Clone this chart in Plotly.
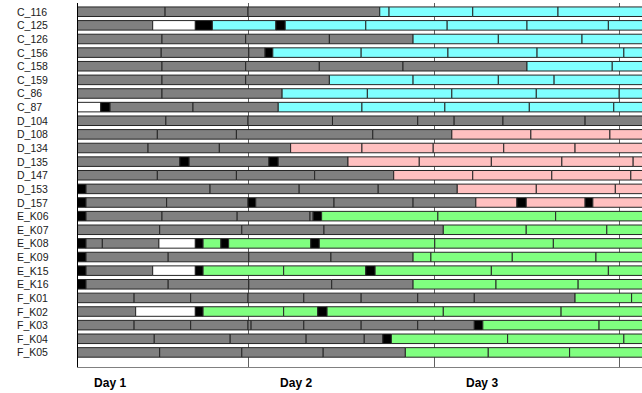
import plotly.graph_objects as go

# Row names (top to bottom)
rows = ["C_116", "C_125", "C_126", "C_156", "C_158", "C_159", "C_86", "C_87",
        "D_104", "D_108", "D_134", "D_135", "D_147", "D_153", "D_157",
        "E_K06", "E_K07", "E_K08", "E_K09", "E_K15", "E_K16",
        "F_K01", "F_K02", "F_K03", "F_K04", "F_K05"]

# Time in hours from the start of Day 1; each row: segment end times and state codes
# g = grey, w = white, k = black, c = cyan, p = pink, n = green
START = 2.0
seg_ends = [
    [13.3, 24.0, 41.0, 42.2, 53.0, 64.0, 76],
    [11.7, 17.2, 19.4, 27.6, 28.8, 39.2, 49.7, 60.0, 70.5, 76],
    [12.9, 23.7, 34.5, 45.3, 56.3, 67.1, 76],
    [12.8, 24.1, 26.2, 27.2, 38.6, 49.8, 61.3, 72.5, 76],
    [12.9, 23.7, 33.2, 44.0, 60.0, 71.0, 76],
    [12.9, 23.7, 34.5, 45.3, 56.3, 63.5, 76],
    [12.9, 28.4, 39.4, 50.3, 61.2, 71.9, 76],
    [5.0, 6.2, 16.9, 27.9, 38.7, 49.4, 60.3, 71.2, 76],
    [13.4, 24.0, 34.9, 45.9, 50.6, 56.9, 67.5, 76],
    [12.3, 22.5, 40.1, 50.3, 60.5, 70.7, 76],
    [11.1, 20.3, 29.5, 38.7, 47.9, 57.0, 66.2, 76],
    [15.2, 16.4, 26.7, 27.9, 36.9, 46.1, 55.4, 64.5, 73.7, 76],
    [12.3, 22.5, 32.6, 42.8, 53.0, 63.2, 73.4, 76],
    [3.1, 19.1, 30.6, 40.8, 51.0, 61.2, 71.4, 76],
    [3.1, 13.5, 24.0, 25.0, 35.1, 45.3, 53.4, 58.7, 59.9, 67.5, 68.5, 76],
    [3.1, 12.9, 22.6, 32.0, 32.4, 33.5, 48.5, 63.7, 76],
    [12.6, 23.2, 33.8, 49.2, 59.9, 70.3, 76],
    [3.1, 5.2, 12.5, 17.2, 18.2, 20.5, 21.5, 32.1, 33.2, 48.1, 63.4, 76],
    [3.1, 13.7, 24.1, 34.7, 45.3, 47.6, 58.1, 68.9, 76],
    [3.1, 11.7, 17.2, 18.2, 28.6, 39.2, 40.4, 55.4, 70.5, 76],
    [3.1, 13.7, 24.1, 34.8, 45.3, 56.0, 66.6, 76],
    [9.3, 16.6, 24.0, 31.2, 38.6, 45.9, 53.2, 66.2, 73.5, 76],
    [9.5, 17.2, 18.2, 28.6, 33.0, 34.2, 49.2, 64.4, 76],
    [9.3, 16.6, 24.0, 24.4, 31.2, 38.6, 45.9, 53.2, 54.3, 69.3, 76],
    [11.9, 21.7, 31.5, 39.0, 41.4, 42.5, 57.5, 72.5, 76],
    [12.6, 23.2, 33.7, 44.3, 55.0, 65.5, 76],
]
seg_states = [
    "gggcccc", "gwkckccccc", "ggggccc", "gggkccccc", "gggggcc", "gggcccc",
    "ggccccc", "wkggccccc", "gggggggg", "ggggppp", "gggppppp", "gkgkgppppp",
    "ggggpppp", "kggggppp", "kggkgggpkpkp", "kggggknnn", "ggggnnn",
    "kggwknknknnn", "kggggnnnn", "kgwknnknnn", "kggggnnn", "ggggggggnn",
    "gwknnknnn", "ggggggggknn", "gggggknnn", "ggggnnn",
]

day_labels = ["Day 1", "Day 2", "Day 3"]
day_label_pos = [6.2, 30.2, 54.2]

state_colors = {"g": "#808080", "w": "#FFFFFF", "k": "#000000",
                "c": "#80FFFF", "p": "#FFC0C0", "n": "#80FF80"}

ys, bases, lens, cols = [], [], [], []
for i, (ends, states) in enumerate(zip(seg_ends, seg_states)):
    s = START
    for e, st in zip(ends, states):
        ys.append(i)
        bases.append(s)
        lens.append(e - s)
        cols.append(state_colors[st])
        s = e

fig = go.Figure(go.Bar(
    y=ys, x=lens, base=bases, orientation="h", width=0.7,
    marker=dict(color=cols, line=dict(color="#262626", width=1)),
    showlegend=False, hoverinfo="skip",
))

annotations = []
for i, name in enumerate(rows):
    annotations.append(dict(
        text=name, xref="paper", x=-0.1117, xanchor="left",
        yref="y", y=i, yanchor="middle", showarrow=False,
        font=dict(size=10.5, color="#202020", family="Liberation Sans"),
    ))

fig.update_layout(
    width=642, height=393,
    margin=dict(l=78, r=0, t=3, b=26),
    paper_bgcolor="white", plot_bgcolor="white",
    barmode="overlay",
    font=dict(family="Liberation Sans", color="black"),
    annotations=annotations,
    xaxis=dict(
        range=[2.06, 74.84], showgrid=False, zeroline=False,
        tickmode="array", tickvals=day_label_pos, ticktext=day_labels,
        tickfont=dict(size=12, weight="bold", family="Liberation Sans"),
        ticks="outside", ticklen=5, tickcolor="rgba(0,0,0,0)",
        showline=True, linecolor="#808080", linewidth=1,
        minor=dict(tickmode="linear", tick0=0, dtick=24, showgrid=True,
                   gridcolor="#606060", gridwidth=1, ticks=""),
    ),
    yaxis=dict(
        range=[26.07, -0.64], showgrid=False, zeroline=False,
        showticklabels=False, showline=True, linecolor="#000000", linewidth=1,
    ),
)

fig.write_html("out.html", config={"displayModeBar": False},
               post_script="document.body.style.margin='0';")
